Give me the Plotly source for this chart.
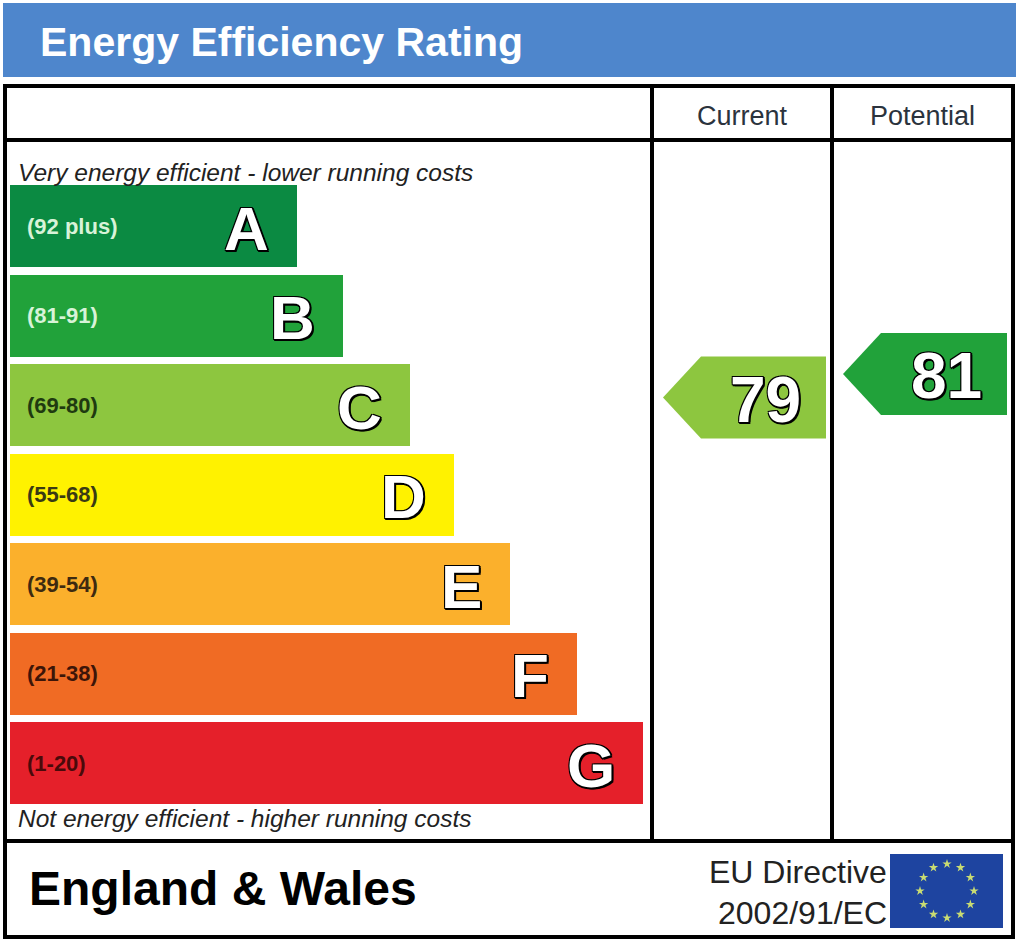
import numpy as np
import plotly.graph_objects as go

# EPC bands, best to worst
bands = ["A", "B", "C", "D", "E", "F", "G"]
band_ranges = ["(92 plus)", "(81-91)", "(69-80)", "(55-68)", "(39-54)", "(21-38)", "(1-20)"]
band_min = [92, 81, 69, 55, 39, 21, 1]
band_right = [297, 343, 410, 454, 510, 577, 643]
band_colors = ["#0b8a42", "#21a23a", "#8dc63f", "#fff200", "#fbb02c", "#f06b24", "#e5202a"]
range_colors = ["#d8f3d8", "#d8f3d8", "#1f3a10", "#3a3a14", "#3d2a10", "#3d1508", "#4a0a0a"]

current_rating = 79
potential_rating = 81

FONT = "Liberation Sans, Arial, sans-serif"
W, H = 1024, 947

# layout of the label (pixel units, y grows downward)
bar_left = 10
band_top0 = 185
band_pitch = 89.5
band_h = 82
col_cur = (652, 832)
col_pot = (832, 1013)
arrow_mid = {"cur": 397.5, "pot": 374}
outline = "2px 2px 0 #000, -1px -1px 0 #000, 1px -1px 0 #000, -1px 1px 0 #000, 2px 0 0 #000, 0 2px 0 #000"

centers = [band_top0 + band_h / 2 + i * band_pitch for i in range(len(bands))]


def band_of(rating):
    for i, lo in enumerate(band_min):
        if rating >= lo:
            return i
    return len(bands) - 1


fig = go.Figure()

fig.add_bar(
    orientation="h",
    y=centers,
    x=[r - bar_left for r in band_right],
    base=bar_left,
    width=band_h,
    marker=dict(color=band_colors, line=dict(width=0)),
    hoverinfo="skip",
    showlegend=False,
)

annotations = []
for i, b in enumerate(bands):
    annotations.append(dict(
        x=25, y=centers[i], text=band_ranges[i], xanchor="left", yanchor="middle",
        showarrow=False, font=dict(family=FONT, size=22, color=range_colors[i], weight="bold"),
    ))
    annotations.append(dict(
        x=band_right[i] - 26, y=centers[i] + 2, text=b, xanchor="right", yanchor="middle",
        showarrow=False, font=dict(family=FONT, size=62, color="white", weight="bold", shadow=outline),
    ))


def add_arrow(rating, col, mid):
    i = band_of(rating)
    x0, x1 = col
    tip = x0 + 11
    body = tip + 38
    right = x1 - 6
    half = band_h / 2
    fig.add_scatter(
        x=[tip, body, right, right, body, tip],
        y=[mid, mid - half, mid - half, mid + half, mid + half, mid],
        fill="toself", fillcolor=band_colors[i], mode="lines", line=dict(width=0),
        hoverinfo="skip", showlegend=False,
    )
    annotations.append(dict(
        x=(body + right) / 2 + 2, y=mid + 2, text=str(rating), xanchor="center", yanchor="middle",
        showarrow=False, font=dict(family=FONT, size=64, color="white", weight="bold", shadow=outline),
    ))


add_arrow(current_rating, col_cur, arrow_mid["cur"])
add_arrow(potential_rating, col_pot, arrow_mid["pot"])

# EU flag stars
ang = np.linspace(0, 2 * np.pi, 12, endpoint=False)
fig.add_scatter(
    x=947 + 27 * np.sin(ang), y=891 - 27 * np.cos(ang),
    mode="markers", marker=dict(symbol="star", size=7, color="#c9dc72", line=dict(width=0)),
    hoverinfo="skip", showlegend=False,
)

shapes = [
    dict(type="rect", x0=3, y0=3, x1=1016, y1=77, fillcolor="#4e86cc", line=dict(width=0), layer="below"),
    dict(type="rect", x0=5, y0=86, x1=1013, y1=937, line=dict(color="black", width=4)),
    dict(type="line", x0=5, y0=140, x1=1013, y1=140, line=dict(color="black", width=4)),
    dict(type="line", x0=5, y0=841, x1=1013, y1=841, line=dict(color="black", width=4)),
    dict(type="line", x0=col_cur[0], y0=86, x1=col_cur[0], y1=841, line=dict(color="black", width=4)),
    dict(type="line", x0=col_pot[0], y0=86, x1=col_pot[0], y1=841, line=dict(color="black", width=4)),
    dict(type="rect", x0=890, y0=854, x1=1003, y1=928, fillcolor="#1e44a0", line=dict(width=0), layer="below"),
]

annotations += [
    dict(x=38, y=42, text="Energy Efficiency Rating", xanchor="left", yanchor="middle",
         font=dict(family=FONT, size=41, color="white", weight="bold")),
    dict(x=sum(col_cur) / 2, y=116, text="Current", xanchor="center", yanchor="middle",
         font=dict(family=FONT, size=27, color="#2b333d")),
    dict(x=sum(col_pot) / 2, y=116, text="Potential", xanchor="center", yanchor="middle",
         font=dict(family=FONT, size=27, color="#2b333d")),
    dict(x=16, y=172, text="Very energy efficient - lower running costs", xanchor="left", yanchor="middle",
         font=dict(family=FONT, size=24.5, color="#222222", style="italic")),
    dict(x=16, y=818, text="Not energy efficient - higher running costs", xanchor="left", yanchor="middle",
         font=dict(family=FONT, size=24.5, color="#222222", style="italic")),
    dict(x=27, y=888, text="England & Wales", xanchor="left", yanchor="middle",
         font=dict(family=FONT, size=48, color="black", weight="bold")),
    dict(x=889, y=872, text="EU Directive", xanchor="right", yanchor="middle",
         font=dict(family=FONT, size=32, color="#222222")),
    dict(x=889, y=913, text="2002/91/EC", xanchor="right", yanchor="middle",
         font=dict(family=FONT, size=32, color="#222222")),
]
for a in annotations:
    a.setdefault("showarrow", False)
    a["xref"] = "x"
    a["yref"] = "y"

fig.update_layout(
    width=W, height=H, autosize=False,
    margin=dict(l=0, r=0, t=0, b=0, pad=0),
    paper_bgcolor="white", plot_bgcolor="white",
    xaxis=dict(range=[0, W], visible=False, fixedrange=True),
    yaxis=dict(range=[H, 0], visible=False, fixedrange=True),
    shapes=shapes, annotations=annotations,
    bargap=0, hovermode=False,
)

# drop the default page margin so the label sits at the window origin
fig.write_html(
    "out.html",
    config={"displayModeBar": False},
    post_script="document.body.style.margin='0';",
)
